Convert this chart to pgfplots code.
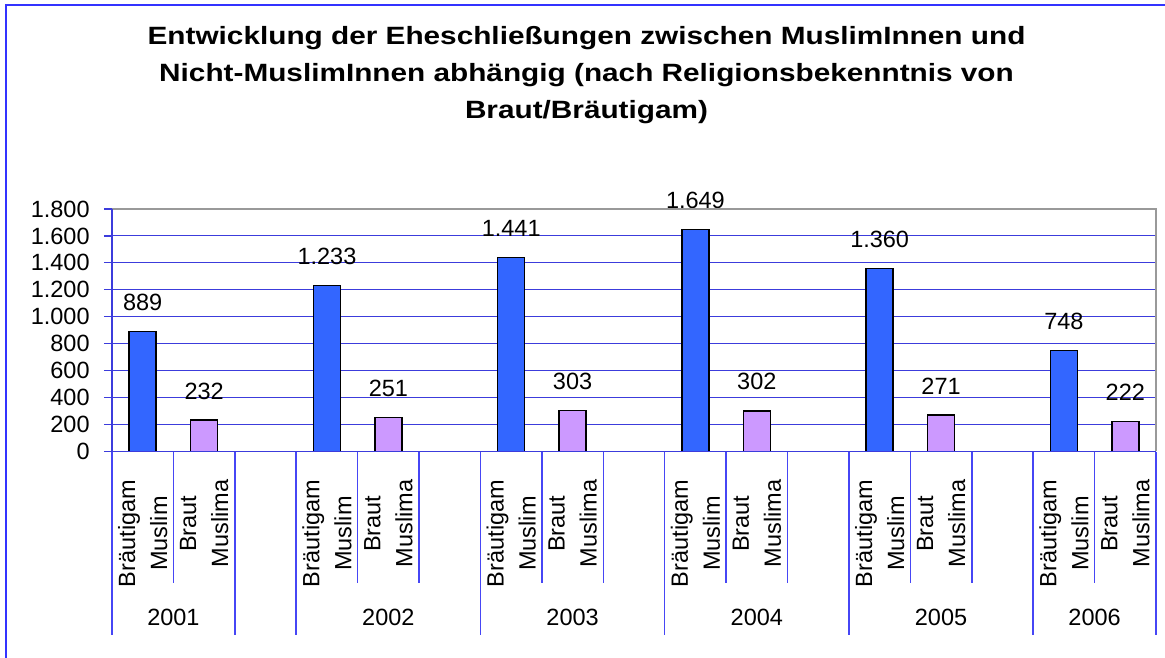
\documentclass[border=0pt]{standalone}
\usepackage{pgfplots}
\pgfplotsset{compat=1.18}
\usepackage{fontspec}
\setmainfont{Liberation Sans}
\newfontfamily\titlefont[FakeStretch=1.19]{Liberation Sans}

\definecolor{barblue}{RGB}{51,102,255}
\definecolor{barlav}{RGB}{204,153,255}
\definecolor{gridblue}{RGB}{60,60,220}
\definecolor{sepblue}{RGB}{70,70,245}
\definecolor{frameblue}{RGB}{51,51,255}

\newcommand{\lblfont}{\fontsize{11.75bp}{16bp}\selectfont}

\begin{document}
\begin{tikzpicture}
    \useasboundingbox (0,0) rectangle (582.5bp,329bp);
    % outer chart frame (only top and left are visible)
    \draw[frameblue, line width=1.2bp] (3bp,0) -- (3bp,326.5bp) -- (582.5bp,326.5bp);

    % title
    \begin{scope}[every node/.style={anchor=base, font=\titlefont\fontsize{12.5bp}{15bp}\selectfont\bfseries}]
        \node at (293.25bp,306.5bp) {Entwicklung der Eheschließungen zwischen MuslimInnen und};
        \node at (293.25bp,288bp) {Nicht-MuslimInnen abhängig (nach Religionsbekenntnis von};
        \node at (293.25bp,269.5bp) {Braut/Bräutigam)};
    \end{scope}

    \begin{axis}[
        name=ax,
        at={(56bp,103.25bp)}, anchor=south west,
        width=522bp, height=121.25bp, scale only axis,
        ybar, bar width=13.5bp,
        xmin=-0.5, xmax=16.5,
        ymin=0, ymax=1800,
        ytick distance=200,
        scaled y ticks=false,
        /pgf/number format/1000 sep={.},
        /pgf/number format/assume math mode=true,
        xtick={0,1,3,4,6,7,9,10,12,13,15,16},
        xticklabels={{Bräutigam\\Muslim},{Braut\\Muslima},
                     {Bräutigam\\Muslim},{Braut\\Muslima},
                     {Bräutigam\\Muslim},{Braut\\Muslima},
                     {Bräutigam\\Muslim},{Braut\\Muslima},
                     {Bräutigam\\Muslim},{Braut\\Muslima},
                     {Bräutigam\\Muslim},{Braut\\Muslima}},
        x tick style={draw=none},
        xticklabel style={rotate=90, anchor=east, align=center, inner sep=0pt, font=\lblfont},
        xticklabel shift=10bp,
        xtick pos=bottom,
        ytick pos=left,
        tick align=outside,
        y tick style={draw=gridblue, line width=0.6bp},
        major tick length=4bp,
        yticklabel style={inner sep=0pt, font=\lblfont},
        yticklabel shift=7bp,
        ymajorgrids,
        grid style={draw=gridblue, line width=0.5bp},
        axis line style={draw=none},
        clip=false,
        nodes near coords,
        every node near coord/.append style={font=\lblfont, inner sep=0pt, yshift=10bp, text=black},
    ]
        % Braeutigam Muslim
        \addplot[fill=barblue, draw=black, line width=0.75bp, bar shift=0pt] coordinates {
            (0,889) (3,1233) (6,1441) (9,1649) (12,1360) (15,748)
        };
        % Braut Muslima
        \addplot[fill=barlav, draw=black, line width=0.75bp, bar shift=0pt] coordinates {
            (1,232) (4,251) (7,303) (10,302) (13,271) (16,222)
        };

        % category separators below the axis: short between sub-categories, long between years
        \pgfplotsinvokeforeach{0.5,3.5,4.5,6.5,7.5,9.5,10.5,12.5,13.5,15.5}{
            \draw[sepblue, line width=0.75bp] (axis cs:#1,0) -- ([yshift=-65.75bp]axis cs:#1,0);
        }
        \pgfplotsinvokeforeach{-0.5,1.5,2.5,5.5,8.5,11.5,14.5,16.5}{
            \draw[sepblue, line width=0.75bp] (axis cs:#1,0) -- ([yshift=-91.75bp]axis cs:#1,0);
        }

        % year labels
        \node[anchor=base, font=\lblfont] at (axis cs:0.5,0) [yshift=-86.75bp] {2001};
        \node[anchor=base, font=\lblfont] at (axis cs:4,0) [yshift=-86.75bp] {2002};
        \node[anchor=base, font=\lblfont] at (axis cs:7,0) [yshift=-86.75bp] {2003};
        \node[anchor=base, font=\lblfont] at (axis cs:10,0) [yshift=-86.75bp] {2004};
        \node[anchor=base, font=\lblfont] at (axis cs:13,0) [yshift=-86.75bp] {2005};
        \node[anchor=base, font=\lblfont] at (axis cs:15.5,0) [yshift=-86.75bp] {2006};
    \end{axis}

    % plot area border: grey top and right, blue left and bottom
    \draw[gray!80, line width=1bp] (ax.north west) -- (ax.north east) -- (ax.south east);
    \draw[gridblue, line width=0.7bp] (ax.north west) -- (ax.south west) -- (ax.south east);
\end{tikzpicture}
\end{document}
